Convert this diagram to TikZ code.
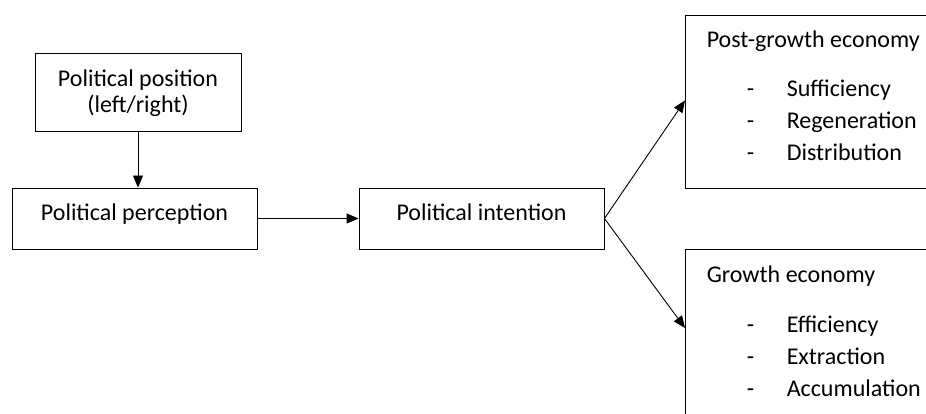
\documentclass[tikz,border=0pt]{standalone}
\usepackage{fontspec}
\setmainfont{Carlito}
\usetikzlibrary{positioning,arrows.meta}

\begin{document}
\begin{tikzpicture}[x=1pt, y=-1pt, line width=0.9pt,
    font=\fontsize{24}{29}\selectfont,
    box/.style={draw, rectangle, inner sep=0pt, minimum width=245pt, minimum height=61pt,
      text height=16pt, text depth=12pt},
    listbox/.style={draw, rectangle, inner sep=0pt, anchor=north west, minimum width=320pt},
    arr/.style={-{Triangle[width=10pt,length=12pt]}}]%
  \useasboundingbox (0,0) rectangle (926,414);%
  \clip (0,0) rectangle (926,414);
  % left column
  \node[box, minimum width=206pt, minimum height=78pt, align=center,
    font=\fontsize{24}{26}\selectfont, text height=44pt, text depth=2pt]
    (position) at (138,92) {Political position\\(left/right)};
  \node[box] (perception) at (134.5,218.5) {Political perception};
  \node[box] (intention) at (481.5,218.5) {Political intention};
  % right column
  \node[listbox, minimum height=173pt] (post) at (685,15) {};
  \node[listbox, minimum height=220pt] (growth) at (685,249) {};
  \node[anchor=base west] (post-title) at (703,48) {Post-growth economy};
  \node[anchor=base west] (growth-title) at (703,282) {Growth economy};
  \foreach \entry [count=\i] in {Sufficiency, Regeneration, Distribution}{%
    \node[anchor=base west] (post-\i) at (743,65+32*\i) {\makebox[40pt][l]{-}\entry};
  }
  \foreach \entry [count=\i] in {Efficiency, Extraction, Accumulation}{%
    \node[anchor=base west] (growth-\i) at (743,300+32*\i) {\makebox[40pt][l]{-}\entry};
  }
  % connectors
  \draw[arr] (position.south) -- (position.south |- perception.north);
  \draw[arr] (perception.east) -- (intention.west);
  \draw[arr] (intention.east) -- ([yshift=1.5pt]post.west);
  \draw[arr] (intention.east) -- ([yshift=-79pt]growth.north west);
\end{tikzpicture}
\end{document}
